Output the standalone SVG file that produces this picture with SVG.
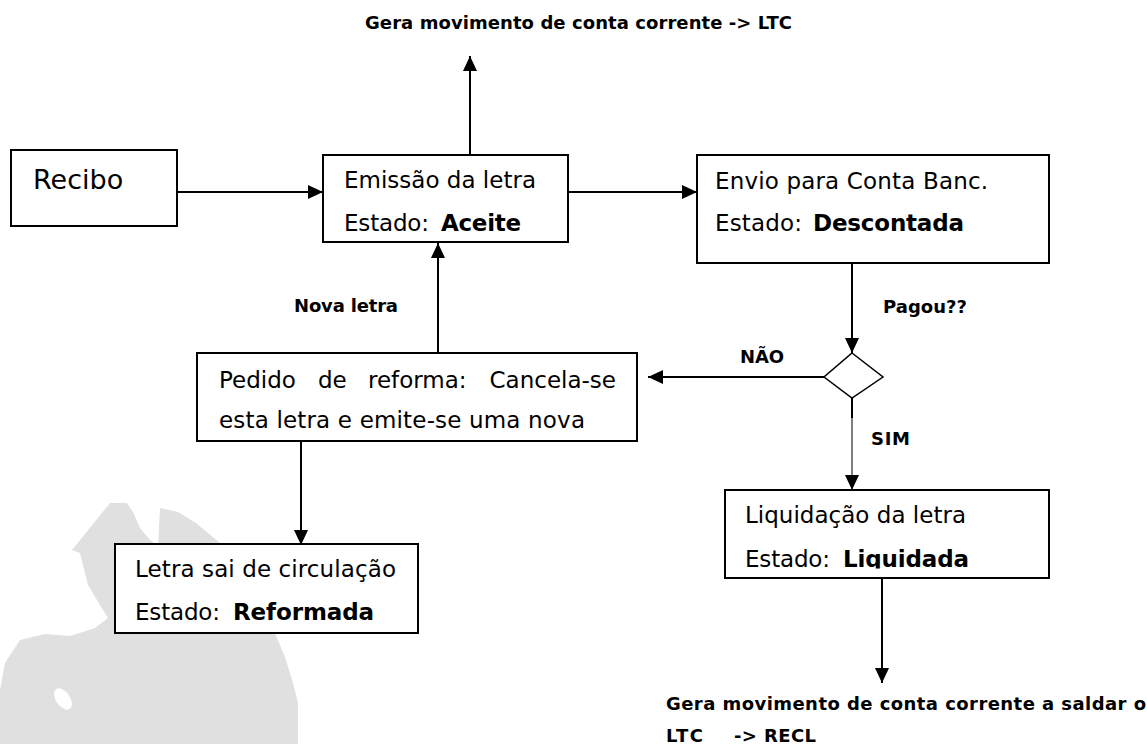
<svg xmlns="http://www.w3.org/2000/svg" width="1147" height="744" viewBox="0 0 1147 744">
<style>
.box{fill:#fff;stroke:#000;stroke-width:2}
.t{font-family:"DejaVu Sans",Verdana,sans-serif;font-size:23px;fill:#000}
.b{font-family:"DejaVu Sans",Verdana,sans-serif;font-size:23px;font-weight:bold;fill:#000}
.lb{font-family:"DejaVu Sans",Verdana,sans-serif;font-size:18px;font-weight:bold;fill:#000}
.c{stroke:#000;stroke-width:2;fill:none}
</style>
<defs>
<marker id="ah" markerUnits="userSpaceOnUse" markerWidth="15" markerHeight="14" refX="15" refY="7" orient="auto">
<path d="M0,0 L15,7 L0,14 Z" fill="#000"/>
</marker>
<clipPath id="liqclip"><rect x="725" y="490" width="324" height="78.5"/></clipPath>
</defs>
<rect width="1147" height="744" fill="#fff"/>
<g id="globe">
<path d="M110,503 L127,503 L133,512 L140,528 L150,540 L158,546 L160,508 L178,512 L196,523 L214,538 L240,560 L262,605 L275,633 L285,657 L293,683 L298,703 L298,744 L0,744 L0,690 L5,663 L20,640 L45,634 L70,636 L95,628 L108,618 L97,600 L88,585 L80,553 L72,550 Z" fill="#e0e0e0"/>
<ellipse cx="63" cy="699" rx="7" ry="12" transform="rotate(-35 63 699)" fill="#fff"/>
</g>
<g id="connectors">
<line class="c" x1="177" y1="192" x2="323" y2="192" marker-end="url(#ah)"/>
<line class="c" x1="568" y1="192" x2="697" y2="192" marker-end="url(#ah)"/>
<line class="c" x1="470" y1="154" x2="470" y2="56" marker-end="url(#ah)"/>
<line class="c" x1="852" y1="263" x2="852" y2="353" marker-end="url(#ah)"/>
<line class="c" x1="824" y1="377" x2="648" y2="377" marker-end="url(#ah)"/>
<line class="c" x1="438" y1="353" x2="438" y2="243" marker-end="url(#ah)"/>
<line class="c" x1="301" y1="441" x2="301" y2="545" marker-end="url(#ah)"/>
<line class="c" x1="852" y1="398" x2="852" y2="418"/>
<line x1="852" y1="417" x2="852" y2="490" stroke="#000" stroke-width="1" marker-end="url(#ah)"/>
<line class="c" x1="882" y1="578" x2="882" y2="683" marker-end="url(#ah)"/>
</g>
<g id="labels">
<text class="lb" x="365" y="29" textLength="427" lengthAdjust="spacing">Gera movimento de conta corrente -&gt; LTC</text>
<text class="lb" x="294" y="312" textLength="104" lengthAdjust="spacing">Nova letra</text>
<text class="lb" x="883" y="313" textLength="84" lengthAdjust="spacing">Pagou??</text>
<text class="lb" x="740" y="363" textLength="44" lengthAdjust="spacing">NÃO</text>
<text class="lb" x="871" y="445" textLength="39" lengthAdjust="spacing">SIM</text>
<text class="lb" x="666" y="710" textLength="480" lengthAdjust="spacing">Gera movimento de conta corrente a saldar o</text>
<text class="lb" x="666" y="742" textLength="37" lengthAdjust="spacing">LTC</text>
<text class="lb" x="734" y="742" textLength="82" lengthAdjust="spacing">-&gt; RECL</text>
</g>
<g id="recibo">
<rect class="box" x="11" y="150" width="166" height="76"/>
<text class="t" x="33" y="189" style="font-size:27px">Recibo</text>
</g>
<g id="emissao">
<rect class="box" x="323" y="155" width="245" height="87"/>
<text class="t" x="344" y="188" textLength="192" lengthAdjust="spacing">Emissão da letra</text>
<text class="t" x="344" y="231" textLength="85" lengthAdjust="spacing">Estado:</text>
<text class="b" x="441" y="231" textLength="80" lengthAdjust="spacing">Aceite</text>
</g>
<g id="envio">
<rect class="box" x="697" y="155" width="352" height="108"/>
<text class="t" x="715" y="189" textLength="273" lengthAdjust="spacing">Envio para Conta Banc.</text>
<text class="t" x="715" y="231" textLength="87" lengthAdjust="spacing">Estado:</text>
<text class="b" x="813" y="231" textLength="151" lengthAdjust="spacing">Descontada</text>
</g>
<g id="decisao">
<polygon points="852,353 883,377 852,398 824,377" fill="#fff" stroke="#000" stroke-width="1.5"/>
</g>
<g id="pedido">
<rect class="box" x="197" y="353" width="440" height="88"/>
<text class="t" x="219" y="388">Pedido</text>
<text class="t" x="318" y="388">de</text>
<text class="t" x="368" y="388">reforma:</text>
<text class="t" x="616" y="388" text-anchor="end">Cancela-se</text>
<text class="t" x="219" y="428" textLength="366" lengthAdjust="spacing">esta letra e emite-se uma nova</text>
</g>
<g id="reformada">
<rect class="box" x="115" y="544" width="303" height="89"/>
<text class="t" x="135" y="577" textLength="261" lengthAdjust="spacing">Letra sai de circulação</text>
<text class="t" x="135" y="620" textLength="85" lengthAdjust="spacing">Estado:</text>
<text class="b" x="233" y="620" textLength="141" lengthAdjust="spacing">Reformada</text>
</g>
<g id="liquidacao">
<rect class="box" x="725" y="490" width="324" height="88"/>
<text class="t" x="745" y="523" textLength="221" lengthAdjust="spacing">Liquidação da letra</text>
<g clip-path="url(#liqclip)">
<text class="t" x="745" y="567" textLength="85" lengthAdjust="spacing">Estado:</text>
<text class="b" x="843" y="567" textLength="126" lengthAdjust="spacing">Liquidada</text>
</g>
</g>
</svg>
